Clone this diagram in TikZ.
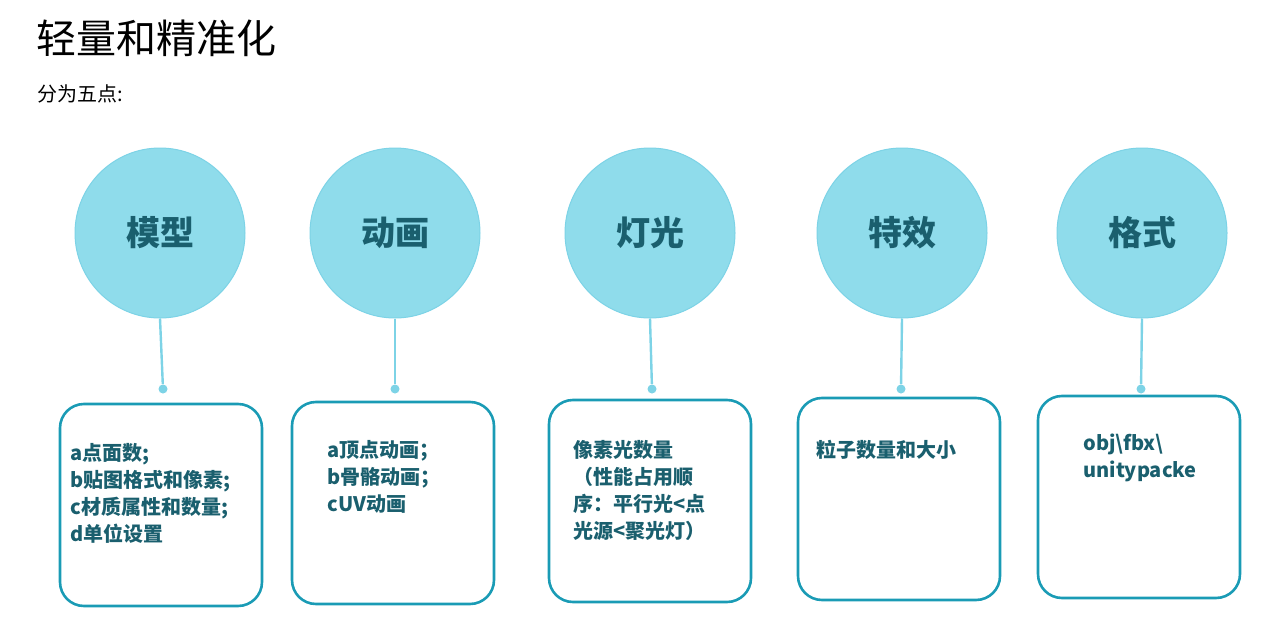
\documentclass[tikz,border=0pt]{standalone}
\usepackage{fontspec}
\setmainfont{Noto Sans CJK SC}
\definecolor{circ}{HTML}{8FDCEB}
\definecolor{ln}{HTML}{7DD3E6}
\definecolor{bx}{HTML}{1A9BB5}
\definecolor{tx}{HTML}{1A5F6E}
\tikzset{
 bubble/.style={circle,fill=circ,draw=ln,line width=0.5pt,minimum size=85pt,inner sep=0pt,font=\fontsize{17}{20}\selectfont\bfseries,text=tx},
 card/.style={draw=bx,line width=1.3pt,rounded corners=12pt},
 lab/.style={anchor=north west,align=left,inner sep=0pt,font=\fontsize{10}{13.5}\selectfont\bfseries,text=tx},
 stem/.style={draw=ln,line width=1.2pt},
 dot/.style={circle,fill=ln,inner sep=0pt,minimum size=4.5pt}
}
\begin{document}
\begin{tikzpicture}[x=0.5pt,y=-0.5pt]
\useasboundingbox (0,0) rectangle (1280,637);
\node[anchor=west,inner sep=0pt,font=\fontsize{20}{24}\selectfont] (title) at (36,38) {轻量和精准化};
\node[anchor=west,inner sep=0pt,font=\fontsize{10}{12}\selectfont] (sub) at (37,94) {分为五点:};
\foreach \i/\cx/\dx/\bx/\by/\t in {1/160/163/60/404/模型,2/395/395/292/402/动画,3/650/652/549/400/灯光,4/902/901/798/398/特效,5/1142/1141/1038/396/格式}{
 \node[bubble] (c\i) at (\cx,233) {\t};
 \node[dot] (d\i) at (\dx,389) {};
 \draw[stem] (c\i.south) -- (d\i);
 \draw[card] (\bx,\by) rectangle ++(202,202);
}
\node[lab] (t1) at (70,443) {a点面数;\\b贴图格式和像素;\\c材质属性和数量;\\d单位设置};
\node[lab] (t2) at (327,440) {a顶点动画；\\b骨骼动画；\\cUV动画};
\node[lab] (t3) at (573,440) {像素光数量\\（性能占用顺\\序：平行光<点\\光源<聚光灯）};
\node[lab] (t4) at (816,440) {粒子数量和大小};
\node[lab] (t5) at (1083,433) {obj\textbackslash fbx\textbackslash\\unitypacke};
\end{tikzpicture}
\end{document}
